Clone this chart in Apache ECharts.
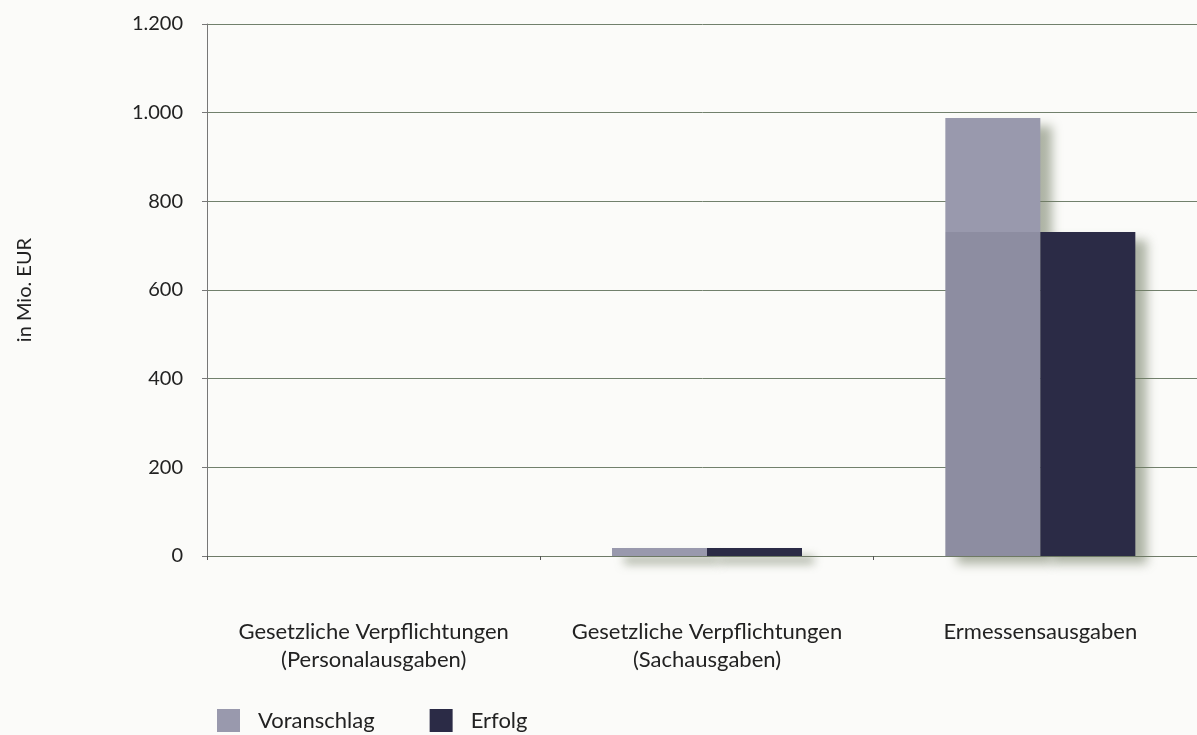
<!DOCTYPE html>
<html><head><meta charset="utf-8">
<script src="https://cdn.jsdelivr.net/npm/echarts@6/dist/echarts.min.js"></script>
<style>html,body{margin:0;padding:0;background:#fbfbf9}#c{width:1197px;height:735px}</style>
</head><body><div id="c"></div>
<script>
const categories = ['Gesetzliche Verpflichtungen\n(Personalausgaben)', 'Gesetzliche Verpflichtungen\n(Sachausgaben)', 'Ermessensausgaben'];
const voranschlag = [0, 18, 988];
const erfolg = [0, 18, 731];
const yTicks = [0, 200, 400, 600, 800, 1000, 1200];
const FONT = 'Lato';
const GRAY = '#9999ad', GRAY_DARK = '#8d8da1';
// Voranschlag bars: the part level with the Erfolg bar is drawn a shade darker, as in the print
const voranschlagData = voranschlag.map((v, i) => {
  const e = erfolg[i];
  if (v <= 0 || e <= 0 || e >= v) return {value: v};
  const f = (v - e) / v;
  return {value: v, itemStyle: {color: new echarts.graphic.LinearGradient(0, 0, 0, 1, [
    {offset: 0, color: GRAY}, {offset: f, color: GRAY}, {offset: f, color: GRAY_DARK}, {offset: 1, color: GRAY_DARK}
  ])}};
});
const chart = echarts.init(document.getElementById('c'));
chart.setOption({
  backgroundColor: '#fbfbf9',
  animation: false,
  textStyle: {fontFamily: FONT},
  grid: {left: 207, right: -10, top: 24, bottom: 179, containLabel: false, outerBoundsMode: 'none'},
  legend: {
    left: 212, top: 704, itemWidth: 23, itemHeight: 23, itemGap: 55,
    icon: 'rect',
    textStyle: {fontFamily: FONT, fontSize: 22, color: '#222', padding: [4, 0, 0, 13]},
    data: ['Voranschlag', 'Erfolg']
  },
  xAxis: {
    type: 'category', data: categories,
    axisLine: {lineStyle: {color: '#6e7a68', width: 1}},
    axisTick: {show: true, length: 4, interval: 0, lineStyle: {color: '#555'}},
    axisLabel: {fontFamily: FONT, fontSize: 22, color: '#222', margin: 62, lineHeight: 28, interval: 0}
  },
  yAxis: {
    type: 'value', min: 0, max: 1200, interval: 200,
    name: 'in Mio. EUR', nameLocation: 'middle', nameGap: 172, nameRotate: 90,
    nameTextStyle: {fontFamily: FONT, fontSize: 20, color: '#222'},
    axisLine: {show: true, lineStyle: {color: '#777'}},
    axisTick: {show: true, length: 5, inside: false, lineStyle: {color: '#777'}},
    axisLabel: {fontFamily: FONT, fontSize: 20, color: '#222', margin: 24,
      formatter: v => yTicks.includes(v) ? v.toLocaleString('de-DE') : ''},
    splitLine: {lineStyle: {color: '#71806c', width: 1}}
  },
  series: [
    {name: 'Voranschlag', type: 'bar', data: voranschlagData, barWidth: 95, barGap: '0%',
     itemStyle: {color: GRAY, shadowColor: 'rgba(110,120,95,0.55)', shadowBlur: 10, shadowOffsetX: 12, shadowOffsetY: 8}},
    {name: 'Erfolg', type: 'bar', data: erfolg, barWidth: 95,
     itemStyle: {color: '#2b2b46', shadowColor: 'rgba(110,120,95,0.55)', shadowBlur: 10, shadowOffsetX: 12, shadowOffsetY: 8}}
  ]
});
</script></body></html>
